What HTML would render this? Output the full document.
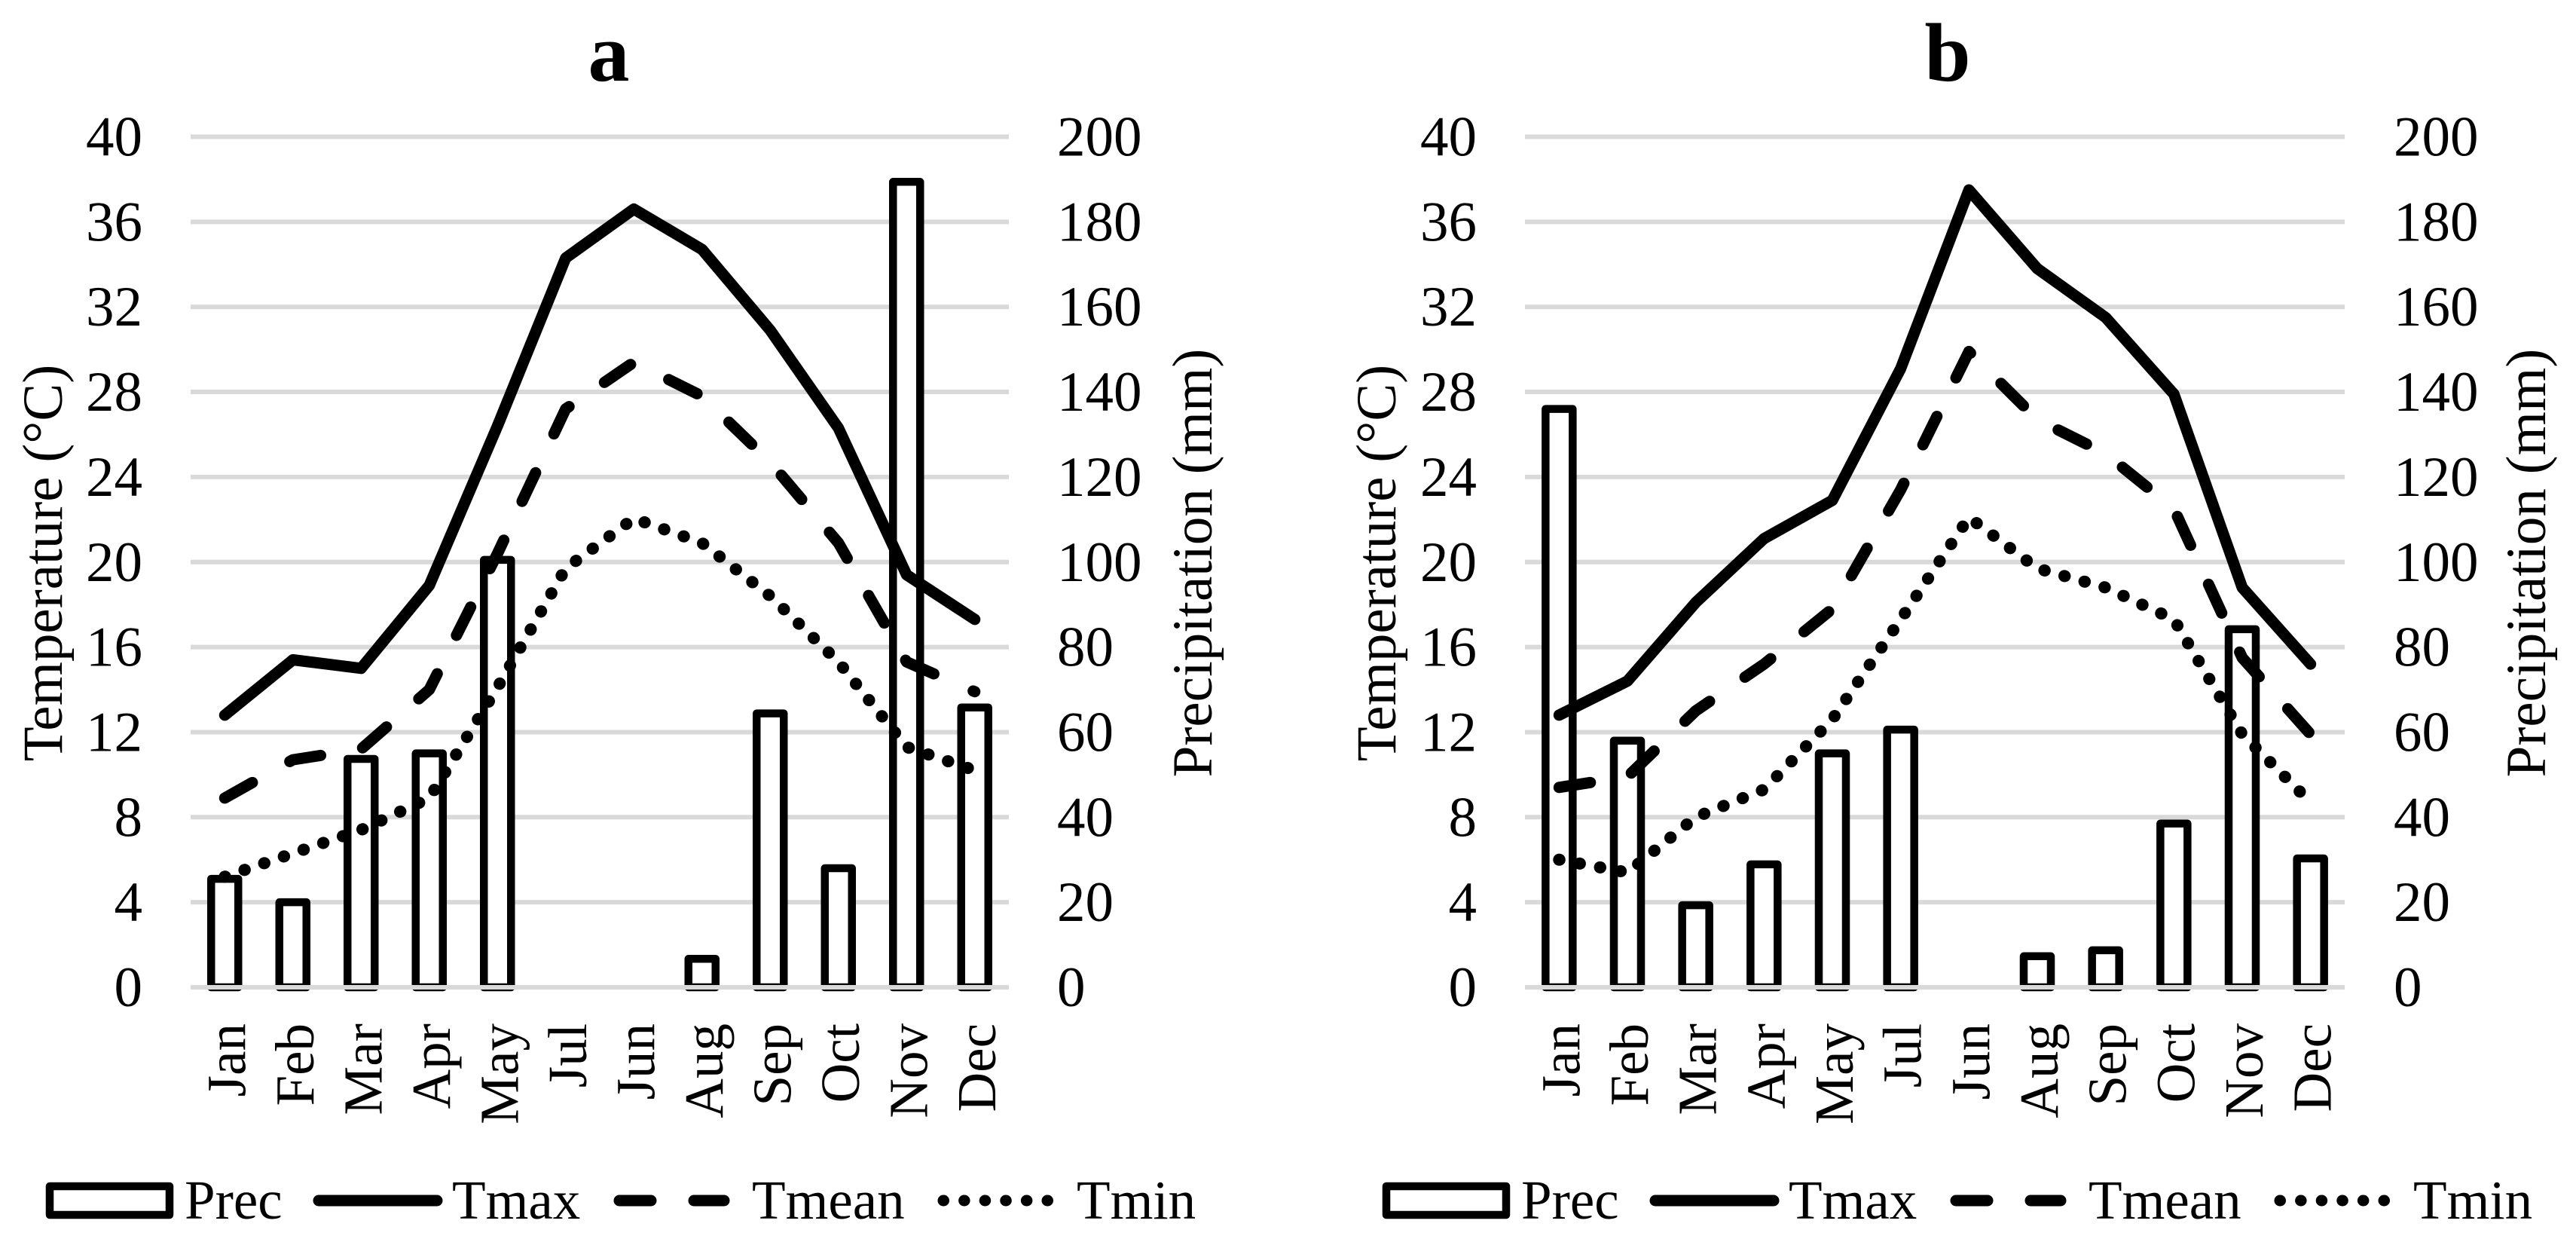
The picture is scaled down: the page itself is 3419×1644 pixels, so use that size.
<!DOCTYPE html>
<html lang="en">
<head>
<meta charset="utf-8">
<title>Climate charts a and b</title>
<style>
html,body{margin:0;padding:0;background:#fff;}
svg{display:block;}
text{font-family:"Liberation Serif",serif;fill:#000;}
</style>
</head>
<body>
<svg id="chart" xmlns="http://www.w3.org/2000/svg" width="3419" height="1644" viewBox="0 0 3419 1644"></svg>
<script>
const months = ["Jan","Feb","Mar","Apr","May","Jul","Jun","Aug","Sep","Oct","Nov","Dec"];
const tempTicks = [0,4,8,12,16,20,24,28,32,36,40];
const precTicks = [0,20,40,60,80,100,120,140,160,180,200];
const precA  = [25.5,20,53.7,55,100.5,0,0,6.7,64.4,28,189.4,65.8];
const tmaxA  = [12.8,15.4,15,18.9,26.4,34.3,36.6,34.7,30.9,26.3,19.4,17.3];
const tmeanA = [8.9,10.7,11.2,14,20.4,27.2,29.4,27.8,24.7,20.9,15.3,13.9];
const tminA  = [5.2,6.3,7.4,8.9,14.1,19.7,22.05,20.9,18.4,15.3,11.3,10.2];
const precB  = [136,58,19.3,28.9,55,60.6,0,7.3,8.7,38.5,84.2,30.3];
const tmaxB  = [12.8,14.4,18.1,21.1,22.9,29.1,37.5,33.8,31.5,27.9,18.8,15.2];
const tmeanB = [9.4,9.9,13,15.2,17.8,23.4,29.9,26.7,25.1,22.5,15.5,11.9];
const tminB  = [6,5.4,8,9.3,12.6,17.3,22.1,19.7,18.8,17.3,11.9,8.7];

const svg = document.getElementById('chart');
const NS = 'http://www.w3.org/2000/svg';
const TOP = 181.5, BASE = 1310;
const STROKE = 15, FONT = 75;
const DASH = '42 57', DOT = '0.5 27.1';

function make(parent, tag, attrs, text) {
  const el = document.createElementNS(NS, tag);
  for (const k in attrs) el.setAttribute(k, attrs[k]);
  if (text !== undefined) el.textContent = text;
  parent.appendChild(el);
  return el;
}
function yTemp(v) { return BASE - (v / 40) * (BASE - TOP); }
function yPrec(v) { return BASE - (v / 200) * (BASE - TOP); }

function drawLine(g, xOf, values, width, dash, name) {
  const pts = values.map((v, i) => xOf(i).toFixed(1) + ',' + yTemp(v).toFixed(1)).join(' ');
  const attrs = {points: pts, fill: 'none', stroke: '#000', 'stroke-width': width, 'stroke-linejoin': 'round', 'stroke-linecap': 'round'};
  if (dash) attrs['stroke-dasharray'] = dash;
  const el = make(g, 'polyline', attrs);
  
  
}

function drawPanel(p, title, titleX, left, right, leftTickX, rightTickX, tempTitleX, precTitleX, legendDx, prec, tmax, tmean, tmin) {
  const g = make(svg, 'g', {});
  
  
  const band = (right - left) / months.length;
  const xOf = i => left + band * (i + 0.5);

  const t = make(g, 'text', {x: titleX, y: 107, 'text-anchor': 'middle', 'font-size': 110, 'font-weight': 'bold'}, title);
  
  

  tempTicks.forEach(v => {
    const l = make(g, 'line', {x1: left, x2: right, y1: yTemp(v), y2: yTemp(v), stroke: '#d9d9d9', 'stroke-width': 6});
    
    
    const lab = make(g, 'text', {x: leftTickX, y: yTemp(v) + 25, 'text-anchor': 'end', 'font-size': FONT}, String(v));
    
    
  });
  precTicks.forEach(v => {
    const lab = make(g, 'text', {x: rightTickX, y: yPrec(v) + 25, 'text-anchor': 'start', 'font-size': FONT}, String(v));
    
    
  });

  prec.forEach((v, i) => {
    if (v <= 0) return;
    const b = make(g, 'rect', {x: xOf(i) - 18, y: yPrec(v), width: 36, height: BASE - yPrec(v), fill: '#fff', stroke: '#000', 'stroke-width': 10.5, 'stroke-linejoin': 'round'});
    
    
  });
  const zero = make(g, 'line', {x1: left, x2: right, y1: BASE, y2: BASE, stroke: '#d9d9d9', 'stroke-width': 6});
  
  

  drawLine(g, xOf, tmax, STROKE, null, 'tmax-line');
  drawLine(g, xOf, tmean, STROKE, DASH, 'tmean-line');
  drawLine(g, xOf, tmin, 16, DOT, 'tmin-line');

  months.forEach((m, i) => {
    const x = xOf(i) + 27;
    const lab = make(g, 'text', {x: x, y: 1358, 'text-anchor': 'end', 'font-size': 73, transform: 'rotate(-90 ' + x + ' 1358)'}, m);
    
    
  });

  const ty = make(g, 'text', {x: tempTitleX, y: 747, 'text-anchor': 'middle', 'font-size': 75, transform: 'rotate(-90 ' + tempTitleX + ' 747)'}, 'Temperature (°C)');
  
  
  const py = make(g, 'text', {x: precTitleX, y: 747, 'text-anchor': 'middle', 'font-size': 75, transform: 'rotate(-90 ' + precTitleX + ' 747)'}, 'Precipitation (mm)');
  
  

  const leg = make(g, 'g', {transform: 'translate(' + legendDx + ' 0)'});
  
  
  const sw1 = make(leg, 'rect', {x: 66, y: 1574, width: 159, height: 38, fill: '#fff', stroke: '#000', 'stroke-width': 10.5, 'stroke-linejoin': 'round'});
  
  
  const tx1 = make(leg, 'text', {x: 245, y: 1617, 'font-size': 73}, 'Prec');
  
  
  const sw2 = make(leg, 'line', {x1: 423, x2: 580, y1: 1593, y2: 1593, stroke: '#000', 'stroke-width': 15, 'stroke-linecap': 'round'});
  
  
  const tx2 = make(leg, 'text', {x: 600, y: 1617, 'font-size': 73}, 'Tmax');
  
  
  const sw3 = make(leg, 'line', {x1: 822, x2: 961, y1: 1593, y2: 1593, stroke: '#000', 'stroke-width': 15, 'stroke-linecap': 'round', 'stroke-dasharray': DASH});
  
  
  const tx3 = make(leg, 'text', {x: 998, y: 1617, 'font-size': 73}, 'Tmean');
  
  
  const sw4 = make(leg, 'line', {x1: 1252, x2: 1394, y1: 1593, y2: 1593, stroke: '#000', 'stroke-width': 15, 'stroke-linecap': 'round', 'stroke-dasharray': DOT});
  
  
  const tx4 = make(leg, 'text', {x: 1429, y: 1617, 'font-size': 73}, 'Tmin');
  
  
}

drawPanel('a', 'a', 808, 253, 1339, 189, 1403, 82, 1608, 0, precA, tmaxA, tmeanA, tminA);
drawPanel('b', 'b', 2585, 2024, 3112, 1960, 3177, 1852, 3378, 1774, precB, tmaxB, tmeanB, tminB);
</script>
</body>
</html>
